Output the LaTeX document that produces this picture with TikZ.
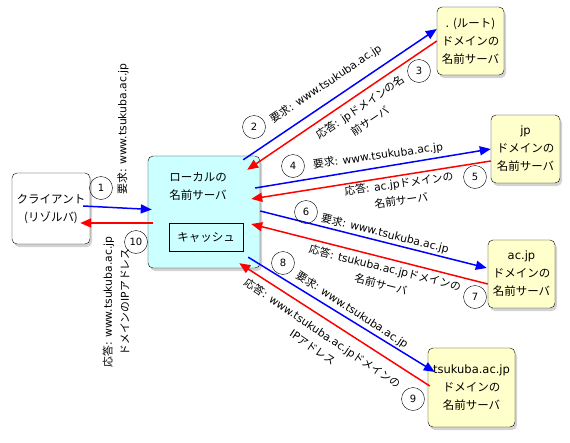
\documentclass[tikz,border=0pt]{standalone}
\usepackage{fontspec}
\setmainfont{Noto Sans CJK JP}
\newfontfamily\en{DejaVu Sans}
\usetikzlibrary{arrows.meta,shadows}
\definecolor{srvyellow}{RGB}{255,255,204}
\definecolor{localcyan}{RGB}{204,255,255}
\tikzstyle{every node}=[inner sep=0pt]
\tikzstyle{box}=[draw, rounded corners=5pt, drop shadow={opacity=0.35, shadow xshift=2pt, shadow yshift=-3pt}, align=center, font=\fontsize{11.5}{18}\selectfont]
\tikzstyle{server}=[box, fill=srvyellow, minimum height=68pt]
\tikzstyle{num}=[circle, draw, minimum size=23pt, font=\en\fontsize{10}{10}\selectfont]
\tikzstyle{lbl}=[align=center, font=\fontsize{10.8}{17}\selectfont]
\tikzstyle{req}=[-{Triangle[length=11pt,width=9pt]}, line width=1.5pt, blue]
\tikzstyle{ans}=[req, red]

\begin{document}
\begin{tikzpicture}[x=1pt, y=-1pt]
\useasboundingbox (0,0) rectangle (570,442);
% Client and local server
    \node[box, fill=white, minimum width=78pt, minimum height=71pt] (client) at (51,208.5) {クライアント\\(リゾルバ)};
    \node[box, fill=localcyan, minimum width=112pt, minimum height=112pt] (local) at (204,212) {};
    \node[align=center, font=\fontsize{11.5}{18}\selectfont] (localname) at (198,186) {ローカルの\\名前サーバ};
    \node[draw, minimum width=74pt, minimum height=28pt, font=\fontsize{11.5}{18}\selectfont] (cache) at (206,237) {キャッシュ};
% Name servers
    \node[server, minimum width=67pt] (root) at (470.5,41) {{\en .\ }(ルート)\\ドメインの\\名前サーバ};
    \node[server, minimum width=69pt] (jp) at (525.5,149) {{\en jp}\\ドメインの\\名前サーバ};
    \node[server, minimum width=67pt] (acjp) at (521.5,274) {{\en ac.jp}\\ドメインの\\名前サーバ};
    \node[server, minimum width=87pt, minimum height=79pt] (tsukuba) at (471.5,387.5) {{\en tsukuba.ac.jp}\\ドメインの\\名前サーバ};
% Queries and answers
    \draw[req] ([shift={(-7,-2.5)}]client.east) -- ([shift={(4,-2.5)}]local.west);
    \draw[ans] ([shift={(5,11)}]local.west) -- ([shift={(-10,14.5)}]client.east);
    \draw[req] ([shift={(-17,4)}]local.north east) -- ([shift={(0,-12)}]root.west);
    \draw[ans] (root.west) -- ([shift={(-13,14)}]local.north east);
    \draw[req] ([shift={(-5,-24)}]local.east) -- (jp.west);
    \draw[ans] ([shift={(0,12)}]jp.west) -- ([shift={(-9,-13)}]local.east);
    \draw[req] ([shift={(0,-1)}]local.east) -- ([shift={(-1,-6)}]acjp.west);
    \draw[ans] ([shift={(0,10)}]acjp.west) -- ([shift={(-9,12)}]local.east);
    \draw[req] ([shift={(-12,-11)}]local.south east) -- ([shift={(7,-15.5)}]tsukuba.west);
    \draw[ans] ([shift={(2,-1.5)}]tsukuba.west) -- ([shift={(-21,-5)}]local.south east);
% Labels
    \node[lbl, rotate=90] (lreq1) at (123,129) {要求{\en: www.tsukuba.ac.jp}};
    \node[lbl, rotate=34] (lreq2) at (326,84) {要求{\en: www.tsukuba.ac.jp}};
    \node[lbl, rotate=34] (lans3) at (365,114) {応答{\en: jp}ドメインの名\\前サーバ};
    \node[lbl, rotate=8] (lreq4) at (378,156) {要求{\en: www.tsukuba.ac.jp}};
    \node[lbl, rotate=8] (lans5) at (400,192) {応答{\en: ac.jp}ドメインの\\名前サーバ};
    \node[lbl, rotate=-14] (lreq6) at (385,234) {要求{\en: www.tsukuba.ac.jp}};
    \node[lbl, rotate=-14] (lans7) at (383,276) {応答{\en: tsukuba.ac.jp}ドメインの\\名前サーバ};
    \node[lbl, rotate=-33] (lreq8) at (352,310) {要求{\en: www.tsukuba.ac.jp}};
    \node[lbl, rotate=-34] (lans9) at (318,340) {応答{\en: www.tsukuba.ac.jp}ドメインの\\{\en IP}アドレス};
    \node[lbl, rotate=90] (lans10) at (116,302) {応答{\en: www.tsukuba.ac.jp}\\ドメインの{\en IP}アドレス};
% Step numbers
    \node[num] (n1) at (101,188) {1};
    \node[num] (n2) at (254,127) {2};
    \node[num] (n3) at (419,71) {3};
    \node[num] (n4) at (293,166) {4};
    \node[num] (n5) at (475,177) {5};
    \node[num] (n6) at (306,212) {6};
    \node[num] (n7) at (475,297) {7};
    \node[num] (n8) at (283,263) {8};
    \node[num] (n9) at (413,399) {9};
    \node[num] (n10) at (136,242) {10};
\end{tikzpicture}
\end{document}
